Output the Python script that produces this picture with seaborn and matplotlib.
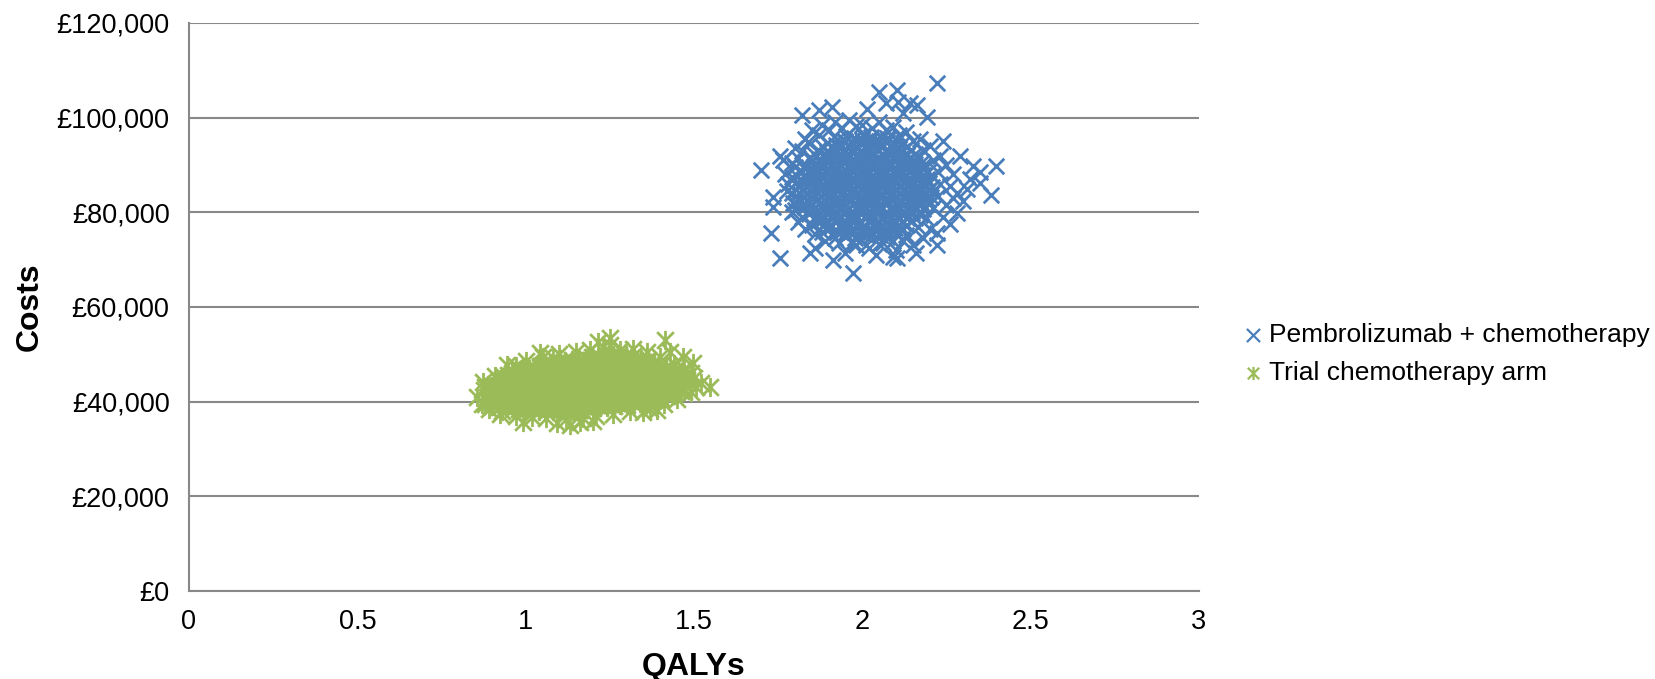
import matplotlib
matplotlib.use("Agg")
import matplotlib.pyplot as plt
from matplotlib.path import Path
import seaborn as sns
import pandas as pd

# ---------------- data ----------------
series_names = ["Pembrolizumab + chemotherapy", "Trial chemotherapy arm"]
x_ticks = [0, 0.5, 1, 1.5, 2, 2.5, 3]
x_tick_labels = ["0", "0.5", "1", "1.5", "2", "2.5", "3"]
y_ticks = [0, 20000, 40000, 60000, 80000, 100000, 120000]
y_tick_labels = ["£0", "£20,000", "£40,000", "£60,000", "£80,000", "£100,000", "£120,000"]
x_label = "QALYs"
y_label = "Costs"

pembro_qaly = [
    1.952, 1.978, 2.004, 2.027, 2.051, 2.073,
    1.897, 1.921, 1.948, 1.972, 1.999, 2.022, 2.049, 2.074, 2.098, 2.121,
    1.868, 1.892, 1.918, 1.944, 1.969, 1.993, 2.019, 2.043, 2.069, 2.094, 2.118, 2.146,
    1.843, 1.869, 1.894, 1.921, 1.946, 1.971, 1.996, 2.021, 2.046, 2.071, 2.096, 2.122, 2.147, 2.171,
    1.829, 1.854, 1.879, 1.906, 1.931, 1.956, 1.981, 2.006, 2.031, 2.056, 2.081, 2.107, 2.132, 2.156, 2.181,
    1.818, 1.843, 1.868, 1.893, 1.918, 1.944, 1.969, 1.994, 2.019, 2.044, 2.069, 2.094, 2.119, 2.144, 2.169, 2.194,
    1.812, 1.837, 1.862, 1.887, 1.912, 1.937, 1.962, 1.987, 2.012, 2.037, 2.062, 2.087, 2.112, 2.137, 2.162, 2.187, 2.209,
    1.808, 1.833, 1.858, 1.883, 1.908, 1.933, 1.958, 1.983, 2.008, 2.033, 2.058, 2.083, 2.108, 2.133, 2.158, 2.183, 2.208,
    1.815, 1.840, 1.866, 1.891, 1.916, 1.941, 1.966, 1.991, 2.016, 2.041, 2.066, 2.091, 2.116, 2.141, 2.166, 2.191,
    1.821, 1.846, 1.871, 1.896, 1.921, 1.946, 1.971, 1.996, 2.021, 2.046, 2.071, 2.096, 2.121, 2.146, 2.171, 2.195,
    1.831, 1.856, 1.881, 1.906, 1.931, 1.956, 1.981, 2.006, 2.031, 2.056, 2.081, 2.106, 2.131, 2.156, 2.181,
    1.846, 1.871, 1.896, 1.921, 1.946, 1.971, 1.996, 2.021, 2.046, 2.071, 2.096, 2.121, 2.146, 2.169,
    1.869, 1.894, 1.919, 1.944, 1.969, 1.994, 2.019, 2.044, 2.069, 2.094, 2.119, 2.144,
    1.898, 1.923, 1.948, 1.973, 1.998, 2.023, 2.048, 2.073, 2.098, 2.122,
    1.951, 1.976, 2.001, 2.026, 2.051, 2.074,
    # in-between rows of the dense core
    1.925, 1.950, 1.975, 2.000, 2.025, 2.050, 2.075, 2.100,
    1.884, 1.909, 1.934, 1.959, 1.984, 2.009, 2.034, 2.059, 2.084, 2.109, 2.134,
    1.857, 1.882, 1.907, 1.932, 1.957, 1.982, 2.007, 2.032, 2.057, 2.082, 2.107, 2.132, 2.157,
    1.848, 1.873, 1.898, 1.923, 1.948, 1.973, 1.998, 2.023, 2.048, 2.073, 2.098, 2.123, 2.148, 2.173,
    1.824, 1.849, 1.874, 1.899, 1.924, 1.949, 1.974, 1.999, 2.024, 2.049, 2.074, 2.099, 2.124, 2.149, 2.174, 2.199,
    1.828, 1.853, 1.878, 1.903, 1.928, 1.953, 1.978, 2.003, 2.028, 2.053, 2.078, 2.103, 2.128, 2.153, 2.178, 2.203,
    1.822, 1.847, 1.872, 1.897, 1.922, 1.947, 1.972, 1.997, 2.022, 2.047, 2.072, 2.097, 2.122, 2.147, 2.172, 2.197,
    1.824, 1.849, 1.874, 1.899, 1.924, 1.949, 1.974, 1.999, 2.024, 2.049, 2.074, 2.099, 2.124, 2.149, 2.174, 2.199,
    1.831, 1.856, 1.881, 1.906, 1.931, 1.956, 1.981, 2.006, 2.031, 2.056, 2.081, 2.106, 2.131, 2.156, 2.181, 2.206,
    1.826, 1.851, 1.876, 1.901, 1.926, 1.951, 1.976, 2.001, 2.026, 2.051, 2.076, 2.101, 2.126, 2.151, 2.176,
    1.851, 1.876, 1.901, 1.926, 1.951, 1.976, 2.001, 2.026, 2.051, 2.076, 2.101, 2.126, 2.151, 2.176,
    1.857, 1.882, 1.907, 1.932, 1.957, 1.982, 2.007, 2.032, 2.057, 2.082, 2.107, 2.132, 2.157,
    1.884, 1.909, 1.934, 1.959, 1.984, 2.009, 2.034, 2.059, 2.084, 2.109, 2.134,
    1.925, 1.950, 1.975, 2.000, 2.025, 2.050, 2.075, 2.100,
    # ring around the core
    1.790, 1.790, 1.795, 1.800, 1.810, 1.820, 1.840, 1.870, 1.900, 1.940, 1.980,
    2.030, 2.070, 2.110, 2.150, 2.180, 2.210, 2.225, 2.230, 2.225, 2.210, 2.190,
    2.165, 2.130, 2.090, 2.050, 2.010, 1.970, 1.920, 1.880, 1.850, 1.820, 1.800,
    # outer points
    2.221, 2.050, 2.102, 2.107, 2.161, 2.141, 2.013, 1.871, 1.909, 2.193, 2.070,
    2.398, 2.383, 1.700, 1.730, 1.755, 1.971, 1.844, 1.914, 2.221, 2.221, 2.280,
    2.330, 2.349, 2.290, 1.735, 1.735, 1.755, 1.765, 2.092, 2.102, 2.100,
    1.780, 1.775, 1.790, 1.790, 1.800, 1.830, 1.850, 1.880, 1.920, 1.960, 2.000,
    2.050, 2.090, 2.130, 2.170, 2.200, 2.230, 2.250, 2.270, 2.260, 2.280, 2.300,
    2.250, 2.240, 2.260, 2.200, 2.180, 2.150, 2.120, 2.060, 2.020, 1.980, 1.930,
    1.890, 1.860, 1.830, 1.810, 1.800, 2.320, 2.310, 2.270, 1.860, 1.950, 2.040,
    2.160, 2.350, 2.240, 1.770, 1.820, 2.120,
]
pembro_cost = [
    75200, 74600, 75500, 74900, 75300, 74700,
    76700, 76200, 76900, 76400, 76600, 76100, 76800, 76300, 76700, 76400,
    78100, 77800, 78300, 77900, 78200, 77700, 78400, 78000, 77800, 78300, 77900, 78200,
    79600, 79300, 79800, 79400, 79700, 79200, 79600, 79500, 79900, 79300, 79700, 79400, 79800, 79500,
    81100, 80800, 81300, 80900, 81200, 80700, 81100, 81400, 80800, 81200, 80900, 81300, 81000, 81200, 80800,
    82600, 82300, 82800, 82400, 82700, 82200, 82600, 82900, 82300, 82700, 82400, 82800, 82500, 82700, 82300, 82600,
    84100, 83800, 84300, 83900, 84200, 83700, 84100, 84400, 83800, 84200, 83900, 84300, 84000, 84200, 83800, 84100, 84300,
    85600, 85300, 85800, 85400, 85700, 85200, 85600, 85900, 85300, 85700, 85400, 85800, 85500, 85700, 85300, 85600, 85400,
    87100, 86800, 87300, 86900, 87200, 86700, 87100, 87400, 86800, 87200, 86900, 87300, 87000, 87200, 86800, 87100,
    88600, 88300, 88800, 88400, 88700, 88200, 88600, 88900, 88300, 88700, 88400, 88800, 88500, 88700, 88300, 88600,
    90100, 89800, 90300, 89900, 90200, 89700, 90100, 90400, 89800, 90200, 89900, 90300, 90000, 90200, 89800,
    91600, 91300, 91800, 91400, 91700, 91200, 91600, 91900, 91300, 91700, 91400, 91800, 91500, 91600,
    93100, 92800, 93300, 92900, 93200, 92700, 93100, 93400, 92800, 93200, 92900, 93100,
    94600, 94300, 94800, 94400, 94700, 94200, 94600, 94900, 94300, 94600,
    96100, 95800, 96300, 95900, 96200, 95800,
    # in-between rows of the dense core
    75800, 75600, 75900, 75700, 75800, 75500, 75900, 75700,
    77300, 77100, 77400, 77200, 77300, 77000, 77400, 77200, 77300, 77100, 77300,
    78800, 78600, 78900, 78700, 78800, 78500, 78900, 78700, 78800, 78600, 78900, 78700, 78800,
    80300, 80100, 80400, 80200, 80300, 80000, 80400, 80200, 80300, 80100, 80400, 80200, 80300, 80100,
    81800, 81600, 81900, 81700, 81800, 81500, 81900, 81700, 81800, 81600, 81900, 81700, 81800, 81600, 81900, 81700,
    83300, 83100, 83400, 83200, 83300, 83000, 83400, 83200, 83300, 83100, 83400, 83200, 83300, 83100, 83400, 83200,
    84800, 84600, 84900, 84700, 84800, 84500, 84900, 84700, 84800, 84600, 84900, 84700, 84800, 84600, 84900, 84700,
    86300, 86100, 86400, 86200, 86300, 86000, 86400, 86200, 86300, 86100, 86400, 86200, 86300, 86100, 86400, 86200,
    87800, 87600, 87900, 87700, 87800, 87500, 87900, 87700, 87800, 87600, 87900, 87700, 87800, 87600, 87900, 87700,
    89300, 89100, 89400, 89200, 89300, 89000, 89400, 89200, 89300, 89100, 89400, 89200, 89300, 89100, 89400,
    90800, 90600, 90900, 90700, 90800, 90500, 90900, 90700, 90800, 90600, 90900, 90700, 90800, 90600,
    92300, 92100, 92400, 92200, 92300, 92000, 92400, 92200, 92300, 92100, 92400, 92200, 92300,
    93800, 93600, 93900, 93700, 93800, 93500, 93900, 93700, 93800, 93600, 93800,
    95300, 95100, 95400, 95200, 95300, 95000, 95400, 95200,
    # ring around the core
    84000, 87500, 82000, 89500, 91500, 93000, 94800, 96300, 97300, 97800, 98200,
    97900, 97300, 96400, 95000, 93200, 91000, 88500, 86000, 83500, 81000, 78800,
    76800, 75200, 74000, 73300, 73000, 73500, 74500, 75800, 77300, 79000, 80500,
    # outer points
    107400, 105400, 105900, 103400, 102700, 103000, 101800, 101600, 102300, 100100, 103000,
    89800, 83700, 88900, 75600, 70300, 67100, 71500, 69900, 73100, 75600, 79800,
    89700, 86100, 91800, 83300, 81200, 91800, 91000, 70600, 70300, 72000,
    86000, 84500, 80000, 90500, 93500, 95500, 97500, 98500, 99000, 99500, 98500,
    99000, 98000, 97000, 95500, 94000, 92000, 90000, 88000, 85500, 84000, 82500,
    81500, 79000, 77500, 76500, 74500, 73000, 74000, 73500, 72500, 73000, 73500,
    74000, 75500, 76500, 78000, 82000, 87000, 85000, 83000, 72500, 71500, 71000,
    71500, 88500, 95000, 88000, 100500, 101000,
]

chemo_qaly = [
    0.880, 0.884, 0.877,
    0.901, 0.897, 0.903, 0.899,
    0.921, 0.918, 0.923, 0.919, 0.922,
    0.941, 0.938, 0.943, 0.939, 0.942, 0.937,
    0.961, 0.958, 0.963, 0.959, 0.962, 0.957, 0.960,
    0.981, 0.978, 0.983, 0.979, 0.982, 0.977, 0.980,
    1.001, 0.998, 1.003, 0.999, 1.002, 0.997, 1.000, 1.004,
    1.021, 1.018, 1.023, 1.019, 1.022, 1.017, 1.020, 1.024,
    1.041, 1.038, 1.043, 1.039, 1.042, 1.037, 1.040, 1.044,
    1.061, 1.058, 1.063, 1.059, 1.062, 1.057, 1.060, 1.064, 1.058,
    1.081, 1.078, 1.083, 1.079, 1.082, 1.077, 1.080, 1.084, 1.078,
    1.101, 1.098, 1.103, 1.099, 1.102, 1.097, 1.100, 1.104, 1.098,
    1.121, 1.118, 1.123, 1.119, 1.122, 1.117, 1.120, 1.124, 1.118,
    1.141, 1.138, 1.143, 1.139, 1.142, 1.137, 1.140, 1.144, 1.138,
    1.161, 1.158, 1.163, 1.159, 1.162, 1.157, 1.160, 1.164, 1.158,
    1.181, 1.178, 1.183, 1.179, 1.182, 1.177, 1.180, 1.184, 1.178,
    1.201, 1.198, 1.203, 1.199, 1.202, 1.197, 1.200, 1.204, 1.198,
    1.221, 1.218, 1.223, 1.219, 1.222, 1.217, 1.220, 1.224, 1.218,
    1.241, 1.238, 1.243, 1.239, 1.242, 1.237, 1.240, 1.244, 1.238,
    1.261, 1.258, 1.263, 1.259, 1.262, 1.257, 1.260, 1.264, 1.258,
    1.281, 1.278, 1.283, 1.279, 1.282, 1.277, 1.280, 1.284, 1.278,
    1.301, 1.298, 1.303, 1.299, 1.302, 1.297, 1.300, 1.304, 1.298,
    1.321, 1.318, 1.323, 1.319, 1.322, 1.317, 1.320, 1.324, 1.318,
    1.341, 1.338, 1.343, 1.339, 1.342, 1.337, 1.340, 1.344,
    1.361, 1.358, 1.363, 1.359, 1.362, 1.357, 1.360, 1.364,
    1.381, 1.378, 1.383, 1.379, 1.382, 1.377, 1.380,
    1.401, 1.398, 1.403, 1.399, 1.402, 1.397, 1.400,
    1.421, 1.418, 1.423, 1.419, 1.422, 1.417,
    1.441, 1.438, 1.443, 1.439, 1.442,
    1.461, 1.458, 1.463, 1.459,
    # in-between columns of the dense core
    0.891, 0.888, 0.892,
    0.911, 0.908, 0.912, 0.909,
    0.931, 0.928, 0.932, 0.929, 0.931,
    0.951, 0.948, 0.952, 0.949, 0.951, 0.948,
    0.971, 0.968, 0.972, 0.969, 0.971, 0.968,
    0.991, 0.988, 0.992, 0.989, 0.991, 0.988, 0.990,
    1.011, 1.008, 1.012, 1.009, 1.011, 1.008, 1.010,
    1.031, 1.028, 1.032, 1.029, 1.031, 1.028, 1.030,
    1.051, 1.048, 1.052, 1.049, 1.051, 1.048, 1.050, 1.052,
    1.071, 1.068, 1.072, 1.069, 1.071, 1.068, 1.070, 1.072,
    1.091, 1.088, 1.092, 1.089, 1.091, 1.088, 1.090, 1.092,
    1.111, 1.108, 1.112, 1.109, 1.111, 1.108, 1.110, 1.112,
    1.131, 1.128, 1.132, 1.129, 1.131, 1.128, 1.130, 1.132,
    1.151, 1.148, 1.152, 1.149, 1.151, 1.148, 1.150, 1.152,
    1.171, 1.168, 1.172, 1.169, 1.171, 1.168, 1.170, 1.172,
    1.191, 1.188, 1.192, 1.189, 1.191, 1.188, 1.190, 1.192,
    1.211, 1.208, 1.212, 1.209, 1.211, 1.208, 1.210, 1.212,
    1.231, 1.228, 1.232, 1.229, 1.231, 1.228, 1.230, 1.232,
    1.251, 1.248, 1.252, 1.249, 1.251, 1.248, 1.250, 1.252,
    1.271, 1.268, 1.272, 1.269, 1.271, 1.268, 1.270, 1.272,
    1.291, 1.288, 1.292, 1.289, 1.291, 1.288, 1.290, 1.292,
    1.311, 1.308, 1.312, 1.309, 1.311, 1.308, 1.310, 1.312,
    1.331, 1.328, 1.332, 1.329, 1.331, 1.328, 1.330,
    1.351, 1.348, 1.352, 1.349, 1.351, 1.348, 1.350,
    1.371, 1.368, 1.372, 1.369, 1.371, 1.368,
    1.391, 1.388, 1.392, 1.389, 1.391,
    1.411, 1.408, 1.412, 1.409, 1.411,
    1.431, 1.428, 1.432, 1.429,
    1.451, 1.448, 1.452,
    # outer points
    0.854, 0.944, 0.874, 1.042, 1.250, 1.216, 1.414, 1.468, 1.498, 1.547,
    1.507, 1.480, 1.470, 1.132, 1.092, 1.160, 1.349, 1.390, 0.924, 0.993,
    0.870, 0.880, 0.910, 0.970, 1.000, 1.050, 1.100, 1.150, 1.190, 1.230,
    1.280, 1.320, 1.360, 1.400, 1.440, 1.490, 1.500, 1.520, 1.490, 1.450,
    1.410, 1.370, 1.310, 1.260, 1.210, 1.170, 1.120, 1.060, 1.020, 0.970,
    0.930, 0.890, 1.470, 1.430, 1.080, 1.250, 1.200,
]
chemo_cost = [
    39500, 41000, 42500,
    39000, 40400, 41800, 43300,
    38800, 40100, 41500, 42900, 44300,
    38700, 40000, 41400, 42800, 44100, 45300,
    38600, 39900, 41300, 42600, 43900, 45200, 46000,
    38400, 39700, 41100, 42400, 43800, 45100, 46400,
    38300, 39600, 41000, 42300, 43600, 45000, 46300, 47000,
    38200, 39500, 40900, 42200, 43500, 44900, 46200, 47300,
    38100, 39400, 40800, 42100, 43500, 44800, 46200, 47500,
    38000, 39300, 40700, 42000, 43400, 44700, 46100, 47400, 48000,
    38000, 39300, 40600, 42000, 43300, 44700, 46000, 47400, 48200,
    38000, 39300, 40600, 42000, 43300, 44700, 46000, 47400, 48400,
    38100, 39400, 40700, 42100, 43400, 44800, 46100, 47500, 48500,
    38100, 39400, 40800, 42100, 43500, 44800, 46200, 47500, 48700,
    38300, 39600, 40900, 42300, 43600, 45000, 46300, 47700, 48900,
    38400, 39700, 41100, 42400, 43800, 45100, 46500, 47800, 49200,
    38600, 39900, 41300, 42600, 44000, 45300, 46700, 48000, 49400,
    38800, 40100, 41500, 42800, 44200, 45500, 46900, 48200, 49600,
    38900, 40200, 41600, 42900, 44300, 45600, 47000, 48300, 49700,
    39000, 40300, 41700, 43000, 44400, 45700, 47100, 48400, 49800,
    39200, 40500, 41800, 43200, 44500, 45900, 47200, 48600, 49800,
    39400, 40700, 42000, 43400, 44700, 46100, 47400, 48800, 49800,
    39600, 40900, 42200, 43600, 44900, 46300, 47600, 48900, 49600,
    39700, 41000, 42300, 43700, 45000, 46400, 47700, 49100,
    40000, 41300, 42600, 44000, 45300, 46700, 48000, 48800,
    40300, 41600, 42900, 44300, 45600, 47000, 48300,
    40700, 42000, 43300, 44600, 45900, 47200, 47700,
    41100, 42400, 43700, 45000, 46300, 47100,
    41600, 42900, 44200, 45500, 46400,
    42200, 43500, 44800, 45800,
    # in-between columns of the dense core
    40200, 41600, 42900,
    39700, 41100, 42500, 43800,
    39400, 40800, 42200, 43500, 44700,
    39300, 40700, 42000, 43400, 44600, 45600,
    39100, 40500, 41900, 43200, 44500, 45800,
    39000, 40300, 41700, 43000, 44300, 45700, 46600,
    38900, 40200, 41600, 42900, 44200, 45500, 46800,
    38800, 40100, 41500, 42800, 44200, 45500, 46800,
    38700, 40000, 41400, 42700, 44100, 45400, 46800, 47700,
    38600, 40000, 41300, 42700, 44000, 45400, 46700, 47900,
    38600, 40000, 41300, 42700, 44000, 45400, 46700, 48000,
    38700, 40000, 41400, 42700, 44100, 45400, 46800, 48000,
    38700, 40100, 41400, 42800, 44100, 45500, 46800, 48100,
    38800, 40200, 41500, 42900, 44200, 45600, 46900, 48300,
    39000, 40400, 41700, 43100, 44400, 45800, 47100, 48500,
    39200, 40600, 41900, 43300, 44600, 46000, 47300, 48700,
    39400, 40800, 42100, 43500, 44800, 46200, 47500, 48900,
    39500, 40900, 42200, 43600, 44900, 46300, 47600, 49000,
    39600, 41000, 42300, 43700, 45000, 46400, 47700, 49100,
    39800, 41100, 42500, 43800, 45200, 46500, 47900, 49200,
    40000, 41300, 42700, 44000, 45400, 46700, 48100, 49300,
    40200, 41500, 42900, 44200, 45600, 46900, 48300, 49300,
    40300, 41600, 43000, 44300, 45700, 47000, 48400,
    40600, 41900, 43300, 44600, 46000, 47300, 48400,
    40900, 42200, 43600, 44900, 46300, 47600,
    41300, 42600, 44000, 45300, 46600,
    41700, 43000, 44300, 45600, 46800,
    42200, 43500, 44800, 45900,
    42800, 44100, 45300,
    # outer points
    41000, 47750, 44200, 50200, 53400, 52700, 53000, 49500, 48100, 43200,
    43200, 44600, 42300, 35100, 35400, 35800, 37900, 38300, 37500, 35800,
    39500, 43000, 45500, 47500, 48500, 49500, 50000, 50500, 51000, 51500,
    51000, 51200, 50500, 49500, 48000, 46000, 45000, 44000, 42000, 40500,
    39500, 38500, 38000, 37500, 37000, 36500, 36300, 36500, 36800, 37000,
    38000, 38500, 47000, 50500, 49300, 52000, 36000,
]

assert len(pembro_qaly) == len(pembro_cost)
assert len(chemo_qaly) == len(chemo_cost)

# ---------------- style ----------------
sns.set_style("white")
plt.rcParams["font.family"] = ["Liberation Sans", "DejaVu Sans"]
plt.rcParams["text.color"] = "black"
plt.rcParams["axes.labelcolor"] = "black"
plt.rcParams["xtick.color"] = "black"
plt.rcParams["ytick.color"] = "black"

BLUE = "#4A7EBB"
GREEN = "#9BBB59"
GRID = "#888888"
W, H = 1655, 679

fig = plt.figure(figsize=(W / 100, H / 100), dpi=100)
ax = fig.add_axes([189 / W, 1 - 591 / H, 1010 / W, 568 / H])

df_p = pd.DataFrame({"QALYs": pembro_qaly, "Costs": pembro_cost})
df_c = pd.DataFrame({"QALYs": chemo_qaly, "Costs": chemo_cost})

# Excel-like star marker: an X plus a vertical bar
star = Path([(-1, -1), (1, 1), (-1, 1), (1, -1), (0, -1.15), (0, 1.15)],
            [Path.MOVETO, Path.LINETO, Path.MOVETO, Path.LINETO, Path.MOVETO, Path.LINETO])

sns.scatterplot(data=df_p, x="QALYs", y="Costs", ax=ax, marker="x", color=BLUE,
                s=125, linewidth=2.0, label=series_names[0], zorder=3)
sns.scatterplot(data=df_c, x="QALYs", y="Costs", ax=ax, marker=star, color=GREEN,
                edgecolor=GREEN, s=190, linewidth=2.0, label=series_names[1], zorder=3)

ax.set_xlim(0, 3)
ax.set_ylim(0, 120000)
ax.set_xticks(x_ticks)
ax.set_xticklabels(x_tick_labels)
ax.set_yticks(y_ticks)
ax.set_yticklabels(y_tick_labels)

ax.grid(axis="y", color=GRID, linewidth=1.5)
ax.grid(axis="x", visible=False)
ax.set_axisbelow(True)
for side in ["top", "right"]:
    ax.spines[side].set_visible(False)
for side in ["left", "bottom"]:
    ax.spines[side].set_color(GRID)
    ax.spines[side].set_linewidth(1.5)

ax.tick_params(axis="both", which="major", direction="out", length=5, width=1.2,
               color=GRID, labelsize=19.5, labelcolor="black")
ax.tick_params(axis="y", pad=9)
ax.tick_params(axis="x", pad=8)

ax.set_xlabel(x_label, fontsize=23, fontweight="bold")
ax.set_ylabel(y_label, fontsize=23, fontweight="bold")
ax.xaxis.set_label_coords(0.5, -0.107)
ax.yaxis.set_label_coords(-0.143, 0.5)

leg = ax.legend(loc="center left", bbox_to_anchor=(1241 / W, 1 - 354 / H), bbox_transform=fig.transFigure,
                frameon=False, fontsize=19, handlelength=0.9, handletextpad=0.15,
                borderpad=0, labelspacing=0.5, borderaxespad=0)
for h in leg.legend_handles:
    h.set_sizes([90])
    h.set_linewidth(1.6)

fig.savefig("out.png", dpi=100)
